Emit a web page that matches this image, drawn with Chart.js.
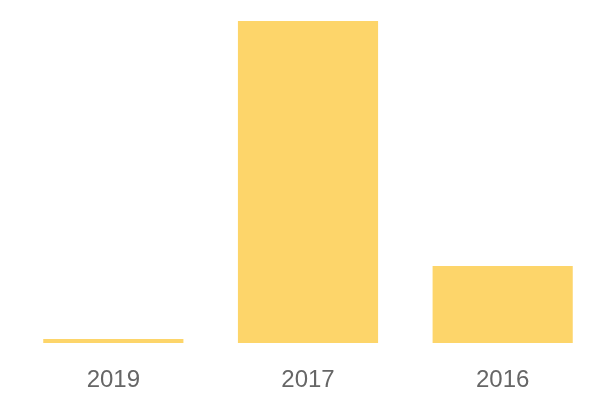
<!DOCTYPE html>
<html>
<head>
<meta charset="utf-8">
<script src="https://cdn.jsdelivr.net/npm/chart.js"></script>
<style>
  html, body { margin: 0; padding: 0; background: #fff; }
  #wrap { width: 600px; height: 400px; }
</style>
</head>
<body>
<div id="wrap"><canvas id="c"></canvas></div>
<script>
const categories = ['2019', '2017', '2016'];
const values = [4, 322, 77];
const barColor = '#FDD56A';

new Chart(document.getElementById('c'), {
  type: 'bar',
  data: {
    labels: categories,
    datasets: [{
      data: values,
      backgroundColor: barColor,
      borderWidth: 0,
      barPercentage: 0.9,
      categoryPercentage: 0.8
    }]
  },
  options: {
    responsive: true,
    maintainAspectRatio: false,
    animation: false,
    layout: { padding: { left: 16, right: 0, top: 21, bottom: 0 } },
    plugins: { legend: { display: false }, tooltip: { enabled: false } },
    scales: {
      x: {
        grid: { display: false, drawTicks: false },
        border: { display: false },
        afterFit: (s) => { s.height = 57; },
        ticks: {
          color: '#666666',
          padding: 23,
          font: { family: '"Liberation Sans", Arial, sans-serif', size: 24 }
        }
      },
      y: {
        display: false,
        min: 0,
        max: Math.max(...values)
      }
    }
  }
});
</script>
</body>
</html>
